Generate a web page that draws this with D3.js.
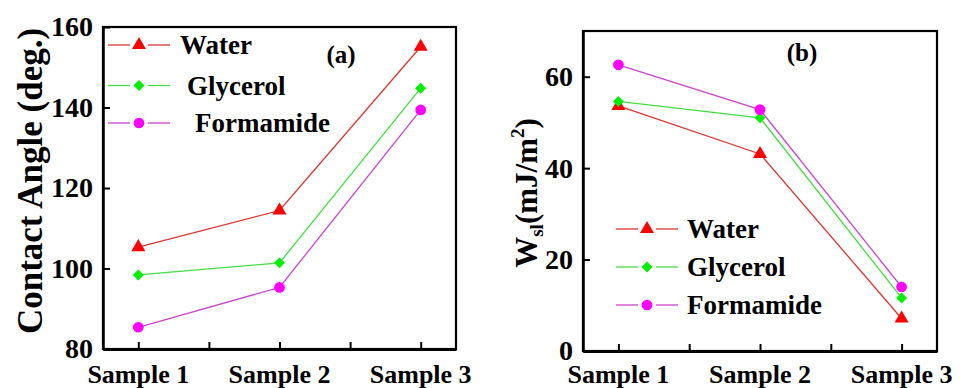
<!DOCTYPE html>
<html><head><meta charset="utf-8">
<script src="https://cdn.jsdelivr.net/npm/d3@7"></script>
<style>body{margin:0;background:#fff}svg{display:block}</style>
</head><body><svg id="c" width="967" height="388"></svg>
<script>
const categories = ["Sample 1", "Sample 2", "Sample 3"];
const seriesNames = ["Water", "Glycerol", "Formamide"];
// Panel (a): contact angle (deg.)
const waterAngle = [105.3, 114.4, 155.1];
const glycerolAngle = [98.4, 101.4, 144.8];
const formamideAngle = [85.4, 95.3, 139.4];
// Panel (b): W_sl (mJ/m^2)
const waterWsl = [53.6, 43.1, 7.1];
const glycerolWsl = [54.6, 51.0, 11.6];
const formamideWsl = [62.6, 52.8, 14.0];
const angleTicks = [80, 100, 120, 140, 160];
const wslTicks = [0, 20, 40, 60];

const FONT = "Liberation Serif";
const markerTypes = [d3.symbolTriangle, d3.symbolSquare, d3.symbolCircle];
const markerRot = [0, 45, 0];
const markerColors = ["#ff0000", "#00ee00", "#ff00ff"];
const lineColors = ["#dd3333", "#44dd44", "#cc44cc"];
const markerSizes = [85, 60, 90];

const svg = d3.select("#c");

function txt(sel) {
  return sel.attr("font-family", FONT).attr("font-weight", "bold").attr("fill", "#000");
}

function panel(opt) {
  const x = d3.scaleLinear().domain([0.75, 3.25]).range([opt.left, opt.right]);
  const y = d3.scaleLinear().domain(opt.domain).range([opt.bottom, opt.top]);
  const g = svg.append("g");
  g.append("rect").attr("x", opt.left).attr("y", opt.top)
    .attr("width", opt.right - opt.left).attr("height", opt.bottom - opt.top)
    .attr("fill", "none").attr("stroke", "#000").attr("stroke-width", 2.2);
  const xa = g.append("g").attr("transform", `translate(0,${opt.bottom})`)
    .call(d3.axisBottom(x).tickValues([1, 1.5, 2, 2.5, 3]).tickSizeInner(-7).tickSizeOuter(0).tickFormat(() => ""));
  xa.select(".domain").attr("stroke-width", 3);
  xa.selectAll(".tick line").attr("stroke-width", 2);
  txt(g.selectAll(".xl").data(categories).enter().append("text"))
    .attr("x", (d, i) => x(i + 1)).attr("y", 383).attr("text-anchor", "middle")
    .attr("font-size", 26).text(d => d);
  const ya = g.append("g").attr("transform", `translate(${opt.left},0)`)
    .call(d3.axisLeft(y).tickValues(opt.ticks).tickSizeInner(-7).tickSizeOuter(0).tickPadding(10));
  ya.attr("font-family", FONT);
  ya.select(".domain").attr("stroke-width", 2.5);
  ya.selectAll(".tick line").attr("stroke-width", 2);
  txt(ya.selectAll(".tick text")).attr("font-size", 28).attr("dy", "0.32em");
  opt.series.forEach((vals, si) => {
    const line = d3.line().x((d, i) => x(i + 1)).y(d => y(d));
    g.append("path").datum(vals).attr("d", line).attr("fill", "none")
      .attr("stroke", lineColors[si]).attr("stroke-width", 1.3);
    g.selectAll(".m" + si).data(vals).enter().append("path")
      .attr("transform", (d, i) => `translate(${x(i + 1)},${y(d)}) rotate(${markerRot[si]})`)
      .attr("d", d3.symbol().type(markerTypes[si]).size(markerSizes[si]))
      .attr("fill", markerColors[si]);
  });
  seriesNames.forEach((name, si) => {
    const ly = opt.legY[si];
    const lx = opt.legX;
    g.append("line").attr("x1", lx).attr("x2", lx + 22).attr("y1", ly).attr("y2", ly)
      .attr("stroke", lineColors[si]).attr("stroke-width", 1.3);
    g.append("line").attr("x1", lx + 40).attr("x2", lx + 62).attr("y1", ly).attr("y2", ly)
      .attr("stroke", lineColors[si]).attr("stroke-width", 1.3);
    g.append("path").attr("transform", `translate(${lx + 31},${ly}) rotate(${markerRot[si]})`)
      .attr("d", d3.symbol().type(markerTypes[si]).size(markerSizes[si]))
      .attr("fill", markerColors[si]);
    txt(g.append("text")).attr("x", opt.legTextX[si]).attr("y", ly + 9).attr("font-size", 27).text(name);
  });
  txt(g.append("text")).attr("x", opt.tagX).attr("y", opt.tagY).attr("text-anchor", "middle")
    .attr("font-size", 25).text(opt.tag);
  return g;
}

panel({left: 103, right: 456, top: 27, bottom: 349, domain: [80, 160], ticks: angleTicks,
  series: [waterAngle, glycerolAngle, formamideAngle],
  legX: 108, legY: [45, 85.5, 123], legTextX: [180, 187, 195], tag: "(a)", tagX: 341, tagY: 63});
panel({left: 583, right: 937, top: 31, bottom: 351, domain: [0, 70], ticks: wslTicks,
  series: [waterWsl, glycerolWsl, formamideWsl],
  legX: 616, legY: [229, 267, 305], legTextX: [687, 687, 687], tag: "(b)", tagX: 802, tagY: 61});

txt(svg.append("text")).attr("transform", "translate(42,181) rotate(-90)")
  .attr("text-anchor", "middle").attr("font-size", 35).text("Contact Angle (deg.)");
const t2 = txt(svg.append("text")).attr("transform", "translate(537,193) rotate(-90)")
  .attr("text-anchor", "middle").attr("font-size", 31);
t2.append("tspan").text("W");
t2.append("tspan").attr("font-size", 19).attr("dy", 6).text("sl");
t2.append("tspan").attr("dy", -6).text("(mJ/m");
t2.append("tspan").attr("font-size", 19).attr("dy", -13).text("2");
t2.append("tspan").attr("dy", 13).text(")");
</script></body></html>
